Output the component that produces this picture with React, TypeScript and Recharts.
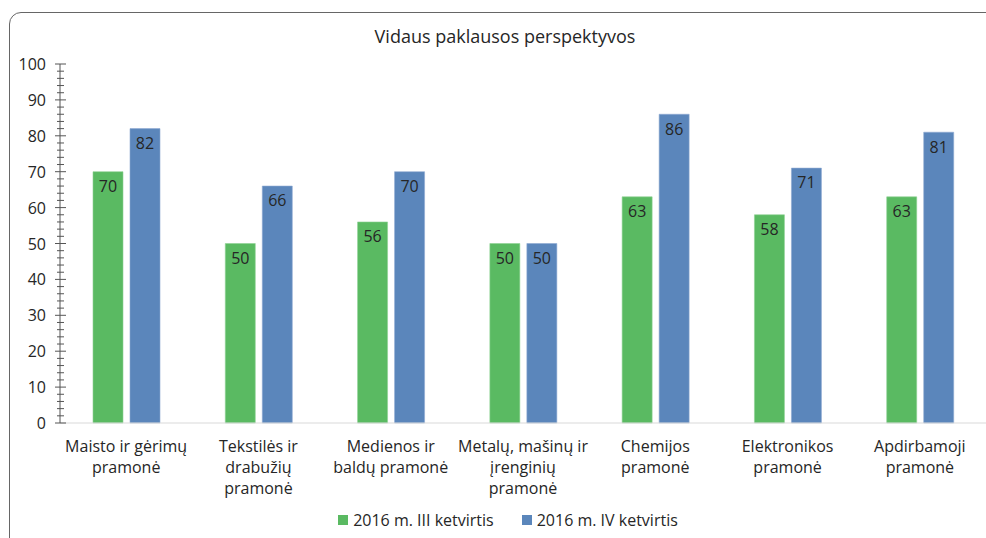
import React from 'react';
import { Bar, BarChart, LabelList, XAxis, YAxis } from 'recharts';

const categories = [
  ['Maisto ir gėrimų', 'pramonė'],
  ['Tekstilės ir', 'drabužių', 'pramonė'],
  ['Medienos ir', 'baldų pramonė'],
  ['Metalų, mašinų ir', 'įrenginių', 'pramonė'],
  ['Chemijos', 'pramonė'],
  ['Elektronikos', 'pramonė'],
  ['Apdirbamoji', 'pramonė'],
];
const q3Values = [70, 50, 56, 50, 63, 58, 63];
const q4Values = [82, 66, 70, 50, 86, 71, 81];
const yTicks = Array.from({ length: 51 }, (_, i) => i * 2);
const seriesNames = ['2016 m. III ketvirtis', '2016 m. IV ketvirtis'];

const data = categories.map((lines, i) => ({
  name: lines.join(' '),
  q3: q3Values[i],
  q4: q4Values[i],
}));

const FONT = '"Open Sans", "Noto Sans", sans-serif';
const TEXT = '#262626';
const GREEN = '#5aba62';
const BLUE = '#5b86bb';

function YTick(props: any) {
  const { x, y, payload } = props;
  const v = payload.value as number;
  const major = v % 10 === 0;
  const len = major ? 5 : 3;
  return (
    <g>
      <line x1={x - len} x2={x + len + 1} y1={y} y2={y} stroke="#555" strokeWidth={1} />
      {major && (
        <text x={x - 14} y={y} dy={6} textAnchor="end" fontSize={16} fill={TEXT} fontFamily={FONT}>
          {v}
        </text>
      )}
    </g>
  );
}

function XTick(props: any) {
  const { x, y, index } = props;
  const lines = categories[index] || [];
  return (
    <g>
      {lines.map((line, i) => (
        <text key={i} x={x} y={y + 21 + i * 21} textAnchor="middle" fontSize={16} fill={TEXT} fontFamily={FONT}>
          {line}
        </text>
      ))}
    </g>
  );
}

export default function App() {
  const colors = [GREEN, BLUE];
  return (
    <div style={{ position: 'absolute', left: 0, top: 0, width: 986, height: 538, overflow: 'hidden', background: '#fff' }}>
      <div
        style={{
          position: 'absolute',
          left: 9,
          top: 12,
          width: 1100,
          height: 700,
          border: '1.5px solid #666',
          borderRadius: 12,
          boxSizing: 'border-box',
        }}
      />
      <div
        style={{
          position: 'absolute',
          left: 0,
          top: 24,
          width: 1010,
          textAlign: 'center',
          fontFamily: FONT,
          fontSize: 18,
          color: TEXT,
        }}
      >
        Vidaus paklausos perspektyvos
      </div>
      <div style={{ position: 'absolute', left: 0, top: 0 }}>
        <BarChart
          width={986}
          height={538}
          data={data}
          margin={{ top: 64, right: 0, left: 0, bottom: 25 }}
          barSize={30}
          barGap={7}
        >
          <XAxis
            dataKey="name"
            interval={0}
            tickLine={false}
            axisLine={{ stroke: '#d9d9d9' }}
            tick={<XTick />}
            height={90}
          />
          <YAxis
            width={60}
            domain={[0, 100]}
            ticks={yTicks}
            interval={0}
            tickLine={false}
            tickSize={0}
            tickMargin={0}
            axisLine={{ stroke: '#555' }}
            tick={<YTick />}
          />
          <Bar dataKey="q3" name={seriesNames[0]} fill={GREEN} stroke="#8fd294" strokeWidth={0.6} isAnimationActive={false}>
            <LabelList dataKey="q3" position="insideTop" offset={9} fill={TEXT} fontSize={16} fontFamily={FONT} />
          </Bar>
          <Bar dataKey="q4" name={seriesNames[1]} fill={BLUE} stroke="#8eaad2" strokeWidth={0.6} isAnimationActive={false}>
            <LabelList dataKey="q4" position="insideTop" offset={9} fill={TEXT} fontSize={16} fontFamily={FONT} />
          </Bar>
        </BarChart>
      </div>
      <div
        style={{
          position: 'absolute',
          left: 0,
          top: 509,
          width: 1016,
          display: 'flex',
          justifyContent: 'center',
          gap: 28,
          fontFamily: FONT,
          fontSize: 16,
          color: TEXT,
        }}
      >
        {seriesNames.map((label, i) => (
          <div key={label} style={{ display: 'flex', alignItems: 'center', gap: 5 }}>
            <span style={{ width: 10, height: 10, background: colors[i], display: 'inline-block' }} />
            <span>{label}</span>
          </div>
        ))}
      </div>
    </div>
  );
}
